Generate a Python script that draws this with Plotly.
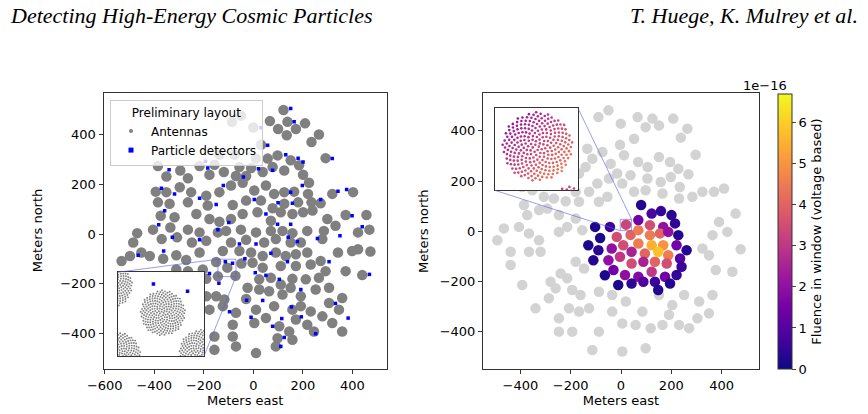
import math
import plotly.graph_objects as go

W, H = 868, 414

# ---------------- data (metres) ----------------
# Left panel: antenna stations (grey) and particle detectors (blue)
ant_x = [122, -50, -86, 67, 138, 209, 0, 100, 172, 135, 265, 235, 31, -137, -76, 98, 151, 292, 11, 58,
         -385, -217, -157, -295, -351, -264, -177, -119, -56, -9, 38, 78, 125, 185, 201, -29, -70,
         -394, -351, -297, -251, -190, -137, -90, -43, 4, 51, 84, 125, 165, 225, 221, 319, 403,
         -385, -338, -264, -184, -83, -29, 31, 78, 125, 181, 235, 272,
         -374, -318, -230, -177, -137, -90, -43, 17, 71, 111, 158, 201, 239, 299, 373, 457,
         -405, -335, -264, -217, -190, -143, -110, -50, -29, 11, 71, 118, 158, 218, 285, 332, 423, 469,
         -469, -485, -370, -308, -248, -90, 44, 91, 151, 192, 279, 423,
         -532, -498, -452, -418, -364, -311, -271, -217, -150, -123, -56, -9, 38, 91, 131, 172, 218, 272, 342, 399, 473,
         -311, -264, -204, -105, -48, -3, 38, 111, 172, 232, 292, 373, 440,
         -190, -143, -72, -23, 24, 71, 111, 158, 212, 265,
         -190, -150, -117, -29, 24, 64, 118, 151, 192, 252, 306, 359,
         -177, -123, -70, 11, 84, 158, 192, 232, 306, 346,
         -83, 4, 51, 105, 172, 218, 279, 319, 359,
         98, 145, 245, -157, -157, -70, 11, 91, 158, -83]
ant_y = [500, 477, 452, 455, 452, 446, 429, 423, 423, 398, 401, 371, 360, 320, 320, 317, 297, 306, 304, 304,
         274, 274, 279, 256, 232, 225, 239, 250, 270, 266, 250, 270, 256, 277, 239, 234, 234,
         171, 169, 189, 169, 155, 169, 196, 207, 176, 196, 162, 169, 171, 207, 162, 162, 169,
         128, 122, 128, 115, 117, 135, 135, 104, 122, 128, 128, 124,
         74, 68, 81, 61, 50, 61, 81, 88, 54, 88, 81, 88, 95, 61, 77, 77,
         18, 27, 18, 7, -27, 7, 13, 18, -23, 7, 13, 13, 4, 13, 13, 34, 7, 18,
         4, -34, -20, -13, -34, -34, -34, -20, -34, -34, -20, -61,
         -108, -88, -74, -88, -99, -85, -104, -74, -112, -68, -68, -74, -88, -74, -88, -81, -74, -108, -74, -68, -70,
         -142, -149, -142, -135, -118, -115, -135, -128, -128, -122, -149, -149, -165,
         -180, -170, -168, -216, -182, -176, -203, -180, -182, -176,
         -250, -250, -263, -261, -223, -230, -243, -216, -250, -223, -216, -257,
         -304, -290, -317, -304, -290, -304, -290, -311, -277, -304,
         -365, -358, -338, -371, -344, -365, -331, -358, -392,
         -419, -392, -392, -412, -466, -452, -479, -452, -425, -412]

det_x = [151, 165, 31, 58, 319, -193, -184, -340, 21, 78, 131, 181, 201, -40, -121, -371, -318, -217, -150,
         4, 151, 198, 272, 342, 377, 100, 158, 51, 98, 151, -358, -382, -362, -465, -217, -143, -99, -327,
         -56, 11, 71, 141, 178, 259, 350, 399, 440, -34, 8, 51, 105, 138, 192, 194, 306, 332, 383, 154,
         115, 78, -9, 38, -27, -96, -177, -139, 125, 111, 252, 469, -113, -84]
det_y = [506, 452, 428, 358, 304, 293, 266, 259, 263, 257, 320, 306, 290, 230, 196, 185, 162, 144, 119,
         139, 169, 196, 139, 173, 180, 126, 124, 81, 40, 40, 94, 38, -68, -85, -23, 18, 47, -13,
         -40, -40, -77, -13, -30, -18, -7, 74, 30, -99, -155, -166, -182, -111, -223, -333, -111, -279, -338, -293,
         -340, -371, -335, -267, -266, -313, -159, -198, -416, -452, -401, -162, -111, -117]

# Right panel: all stations (light grey) and stations with signal (coloured by fluence, units 1e-16)
bg_x = [-50, -90, 66, 125, 208, 151, 98, -1, 264, 238, -4, -134, -74, 52, 297, 151, 195, 228, 268, 106, 68,
        12, -41, -15, 38, 105, 158, 198, 234, 284, 324, 370, 410, -114, -141, -167, -94, -48, -127, -180,
        -220, -167, -267, -307, -353, -393, -386, -326, -373, 52, 98, 165, 231, 5, -54, -88, -293, -247,
        -214, -247, -180, -154, -466, -492, -439, -406, -366, -326, -320, -366, -439, -393, -280, -240,
        -260, -214, -194, -161, -147, -180, 324, 364, 390, 456, 423, 476, 443, 377, 350, 364, 311, 350,
        304, 271, 231, 191, 165, 118, 85, 58, 5, -35, -35, 19, -88, -127, -167, -207, -247, -247, -194,
        -88, -114, 5, 98, -340, -287, 204, 251, 151]
bg_y = [482, 455, 455, 449, 449, 422, 415, 429, 409, 373, 345, 329, 316, 369, 305, 296, 276, 249, 227, 256, 276,
        303, 269, 230, 223, 210, 196, 216, 176, 137, 157, 157, 170, 289, 256, 230, 190, 210, 157, 157,
        119, 117, 130, 137, 163, 176, 104, 84, 64, 157, 163, 150, 130, 190, 137, 117, 90, 64,
        17, -3, 50, 4, 11, -36, -82, 17, -9, -36, -82, -82, -135, -215, -202, -169,
        -228, -188, -235, -255, -149, -122, -69, -16, 37, 70, -3, -72, -162, -155, -96, -255, -281, -328,
        -348, -387, -374, -334, -374, -387, -321, -374, -368, -321, -255, -281, -242, -308, -321, -308, -348, -401, -401,
        -401, -474, -480, -467, -308, -268, -295, -255, -255]

hit_x = [80, 122, 159, 201, 69, 115, 168, 215,
         -103, -44, -83, -130, -90, -110, -64, -11,
         -17, 20, 38, 69, 115, 155, 188, 228,
         -37, 9, 69, 122, 168, 221, 261,
         -50, -4, 42, 95, 148, 188, 235,
         -30, 42, 89, 135, 182, 241,
         16, 69, 122, 175, 221,
         42, 89, 135, 148, 195]
hit_y = [104, 70, 80, 64, 44, 24, 17, 31,
         17, 17, -27, -56, -76, -116, -176, -215,
         -23, 26, -15, 4, -16, -9, -3, -16,
         -69, -56, -49, -56, -56, -56, -76,
         -116, -102, -82, -89, -82, -96, -109,
         -155, -129, -122, -122, -129, -142,
         -175, -182, -162, -182, -175,
         -209, -202, -202, -235, -209]
hit_fluence = [0.3, 0.8, 0.5, 0.4, 1.5, 3.5, 2.0, 0.5,
               0.2, 0.6, 0.2, 0.2, 0.4, 0.3, 0.2, 0.2,
               3.5, 3.3, 4.0, 4.5, 4.5, 4.0, 2.0, 0.3,
               2.0, 3.5, 4.5, 5.5, 5.0, 1.5, 0.3,
               2.0, 3.0, 2.5, 4.0, 5.8, 4.5, 1.0,
               1.5, 3.5, 2.5, 4.0, 3.5, 0.6,
               2.0, 1.8, 3.0, 1.5, 0.5,
               0.4, 1.0, 0.6, 0.3, 0.3]

left_xticks = [-600, -400, -200, 0, 200, 400]
left_yticks = [-400, -200, 0, 200, 400]
right_ticks = [-400, -200, 0, 200, 400]
cbar_ticks = [0, 1, 2, 3, 4, 5, 6]

# station antenna layout (sunflower pattern) used in the zoomed insets
N_ANT = 256
R_STATION = 19.0
GOLDEN = math.pi * (3 - math.sqrt(5))
INSET_GRADIENT = 0.06   # fluence change per metre across a station (1e-16)

# ---------------- layout geometry ----------------
L_XR, L_YR = [-605, 540], [-543, 567]
R_XR, R_YR = [-549, 549], [-550, 550]
L_DX = [103.5 / W, 387 / W]
R_DX = [483 / W, 759 / W]
DY = [(H - 369) / H, (H - 93.3) / H]

L_INSET_RANGE = ([-143, -70], [-171, -101])
R_INSET_RANGE = ([-3, 42], [2, 47])
L_INSET_BOX = ([-546, -199], [-491, -153])   # where the inset sits, in main-axis metres
R_INSET_BOX = ([-502, -171], [163, 490])


def to_paper(v, rng, dom):
    return dom[0] + (v - rng[0]) / (rng[1] - rng[0]) * (dom[1] - dom[0])


def station_layout(cx, cy):
    xs, ys = [], []
    for i in range(N_ANT):
        r = R_STATION * math.sqrt((i + 0.5) / N_ANT)
        t = i * GOLDEN
        xs.append(cx + r * math.cos(t))
        ys.append(cy + r * math.sin(t))
    return xs, ys


def near(cx, cy, rng):
    return (rng[0][0] - R_STATION - 1 < cx < rng[0][1] + R_STATION + 1 and
            rng[1][0] - R_STATION - 1 < cy < rng[1][1] + R_STATION + 1)


GREY = '#808080'
LINK = 'rgba(90,90,235,0.6)'
fig = go.Figure()

# left main
fig.add_trace(go.Scatter(x=ant_x, y=ant_y, mode='markers', marker=dict(size=10.5, color=GREY),
                         showlegend=False, hoverinfo='skip', xaxis='x', yaxis='y'))
fig.add_trace(go.Scatter(x=det_x, y=det_y, mode='markers',
                         marker=dict(size=3.5, symbol='square', color='#0000ff'),
                         showlegend=False, hoverinfo='skip', xaxis='x', yaxis='y'))
fig.add_trace(go.Scatter(x=[None], y=[None], mode='markers', name='Antennas',
                         marker=dict(size=4, color=GREY), xaxis='x', yaxis='y'))
fig.add_trace(go.Scatter(x=[None], y=[None], mode='markers', name='Particle detectors',
                         marker=dict(size=5, symbol='square', color='#0000ff'), xaxis='x', yaxis='y'))

# right main
fig.add_trace(go.Scatter(x=bg_x, y=bg_y, mode='markers', marker=dict(size=10.5, color='#d3d3d3'),
                         showlegend=False, hoverinfo='skip', xaxis='x2', yaxis='y2'))
fig.add_trace(go.Scatter(
    x=hit_x, y=hit_y, mode='markers', showlegend=False, hoverinfo='skip', xaxis='x2', yaxis='y2',
    marker=dict(size=10.5, color=hit_fluence, colorscale='Plasma', cmin=0, cmax=6.7, showscale=True,
                colorbar=dict(x=778 / W, xanchor='left', y=(H - 369) / H, yanchor='bottom',
                              len=(369 - 94) / H, lenmode='fraction', thickness=14,
                              thicknessmode='pixels', xpad=0, ypad=0, outlinewidth=1,
                              outlinecolor='#333333', ticks='outside', ticklen=4,
                              tickvals=cbar_ticks, tickfont=dict(size=13),
                              title=dict(text='Fluence in window (voltage based)', side='right',
                                         font=dict(size=13))))))

# left inset
lx, ly = L_INSET_RANGE
fig.add_trace(go.Scatter(x=[lx[0], lx[1], lx[1], lx[0], lx[0]], y=[ly[0], ly[0], ly[1], ly[1], ly[0]],
                         fill='toself', fillcolor='white', mode='lines', line=dict(width=0),
                         showlegend=False, hoverinfo='skip', xaxis='x3', yaxis='y3'))
ix, iy = [], []
for cx, cy in zip(ant_x, ant_y):
    if near(cx, cy, L_INSET_RANGE):
        sx, sy = station_layout(cx, cy)
        ix += sx
        iy += sy
fig.add_trace(go.Scatter(x=ix, y=iy, mode='markers', marker=dict(size=1.9, color=GREY),
                         showlegend=False, hoverinfo='skip', xaxis='x3', yaxis='y3'))
fig.add_trace(go.Scatter(x=det_x, y=det_y, mode='markers',
                         marker=dict(size=3.5, symbol='square', color='#0000ff'),
                         showlegend=False, hoverinfo='skip', xaxis='x3', yaxis='y3'))

# right inset
rx, ry = R_INSET_RANGE
fig.add_trace(go.Scatter(x=[rx[0], rx[1], rx[1], rx[0], rx[0]], y=[ry[0], ry[0], ry[1], ry[1], ry[0]],
                         fill='toself', fillcolor='white', mode='lines', line=dict(width=0),
                         showlegend=False, hoverinfo='skip', xaxis='x4', yaxis='y4'))
jx, jy, jc = [], [], []
for cx, cy, v in zip(hit_x, hit_y, hit_fluence):
    if near(cx, cy, R_INSET_RANGE):
        sx, sy = station_layout(cx, cy)
        for ax_, ay_ in zip(sx, sy):
            jx.append(ax_)
            jy.append(ay_)
            jc.append(v + INSET_GRADIENT * ((ax_ - cx) - (ay_ - cy)) / math.sqrt(2))
fig.add_trace(go.Scatter(x=jx, y=jy, mode='markers',
                         marker=dict(size=2.6, color=jc, colorscale='Plasma', cmin=0, cmax=6.7),
                         showlegend=False, hoverinfo='skip', xaxis='x4', yaxis='y4'))

# zoom indicators and connector lines (main-axis metres)
shapes = []
for (zx, zy), (bx, by), xr, yr, ends in [
        (L_INSET_RANGE, L_INSET_BOX, 'x', 'y', [((0, 1), (0, 1)), ((1, 0), (1, 0))]),
        (R_INSET_RANGE, R_INSET_BOX, 'x2', 'y2', [((1, 1), (1, 1)), ((0, 0), (0, 0))])]:
    shapes.append(dict(type='rect', xref=xr, yref=yr, x0=zx[0], x1=zx[1], y0=zy[0], y1=zy[1],
                       line=dict(color=LINK, width=1), layer='above'))
    for (bi, bj), (zi, zj) in ends:
        shapes.append(dict(type='line', xref=xr, yref=yr, x0=bx[bi], y0=by[bj], x1=zx[zi], y1=zy[zj],
                           line=dict(color=LINK, width=1), layer='above'))

axis_common = dict(showgrid=False, zeroline=False, showline=True, mirror=True, linecolor='#333333',
                   linewidth=1, ticks='outside', ticklen=4, tickwidth=1, tickcolor='#333333',
                   tickfont=dict(size=13, color='black'), automargin=False)
inset_common = dict(showgrid=False, zeroline=False, showline=True, mirror=True, linecolor='#333333',
                    linewidth=1.3, ticks='', showticklabels=False, automargin=False)


def inset_domain(box, xrng, yrng, dx):
    return ([to_paper(box[0][0], xrng, dx), to_paper(box[0][1], xrng, dx)],
            [to_paper(box[1][0], yrng, DY), to_paper(box[1][1], yrng, DY)])


l_dom = inset_domain(L_INSET_BOX, L_XR, L_YR, L_DX)
r_dom = inset_domain(R_INSET_BOX, R_XR, R_YR, R_DX)

fig.update_layout(
    width=W, height=H, margin=dict(l=0, r=0, t=0, b=0, autoexpand=False),
    paper_bgcolor='white', plot_bgcolor='white',
    font=dict(family='DejaVu Sans', size=13, color='black'),
    xaxis=dict(domain=L_DX, range=L_XR, tickvals=left_xticks, anchor='y',
               title=dict(text='Meters east', font=dict(size=13), standoff=4), **axis_common),
    yaxis=dict(domain=DY, range=L_YR, tickvals=left_yticks, anchor='x', **axis_common),
    xaxis2=dict(domain=R_DX, range=R_XR, tickvals=right_ticks, anchor='y2',
                title=dict(text='Meters east', font=dict(size=13), standoff=4), **axis_common),
    yaxis2=dict(domain=DY, range=R_YR, tickvals=right_ticks, anchor='x2',
                title=dict(text='Meters north', font=dict(size=13), standoff=8), **axis_common),
    xaxis3=dict(domain=l_dom[0], range=L_INSET_RANGE[0], anchor='y3', **inset_common),
    yaxis3=dict(domain=l_dom[1], range=L_INSET_RANGE[1], anchor='x3', **inset_common),
    xaxis4=dict(domain=r_dom[0], range=R_INSET_RANGE[0], anchor='y4', **inset_common),
    yaxis4=dict(domain=r_dom[1], range=R_INSET_RANGE[1], anchor='x4', **inset_common),
    legend=dict(x=110 / W, y=(H - 100) / H, xanchor='left', yanchor='top',
                bgcolor='rgba(255,255,255,0.8)', bordercolor='#cccccc', borderwidth=1,
                font=dict(size=12), tracegroupgap=0,
                title=dict(text='Preliminary layout', side='top center', font=dict(size=12))),
    shapes=shapes,
    annotations=[
        dict(text='Meters north', xref='paper', yref='paper', x=37 / W, y=sum(DY) / 2,
             xanchor='center', yanchor='middle', textangle=-90, showarrow=False,
             font=dict(size=13)),
        dict(text='Detecting High-Energy Cosmic Particles', xref='paper', yref='paper',
             x=8 / W, y=(H - 15) / H, xanchor='left', yanchor='middle', showarrow=False,
             font=dict(family='Liberation Serif', size=22, style='italic', color='black')),
        dict(text='T. Huege, K. Mulrey et al.', xref='paper', yref='paper',
             x=860 / W, y=(H - 15) / H, xanchor='right', yanchor='middle', showarrow=False,
             font=dict(family='Liberation Serif', size=22, style='italic', color='black')),
        dict(text='1e\u221216', xref='paper', yref='paper', x=765 / W, y=(H - 85) / H,
             xanchor='center', yanchor='middle', showarrow=False, font=dict(size=13)),
    ],
)

fig.write_html('out.html')
